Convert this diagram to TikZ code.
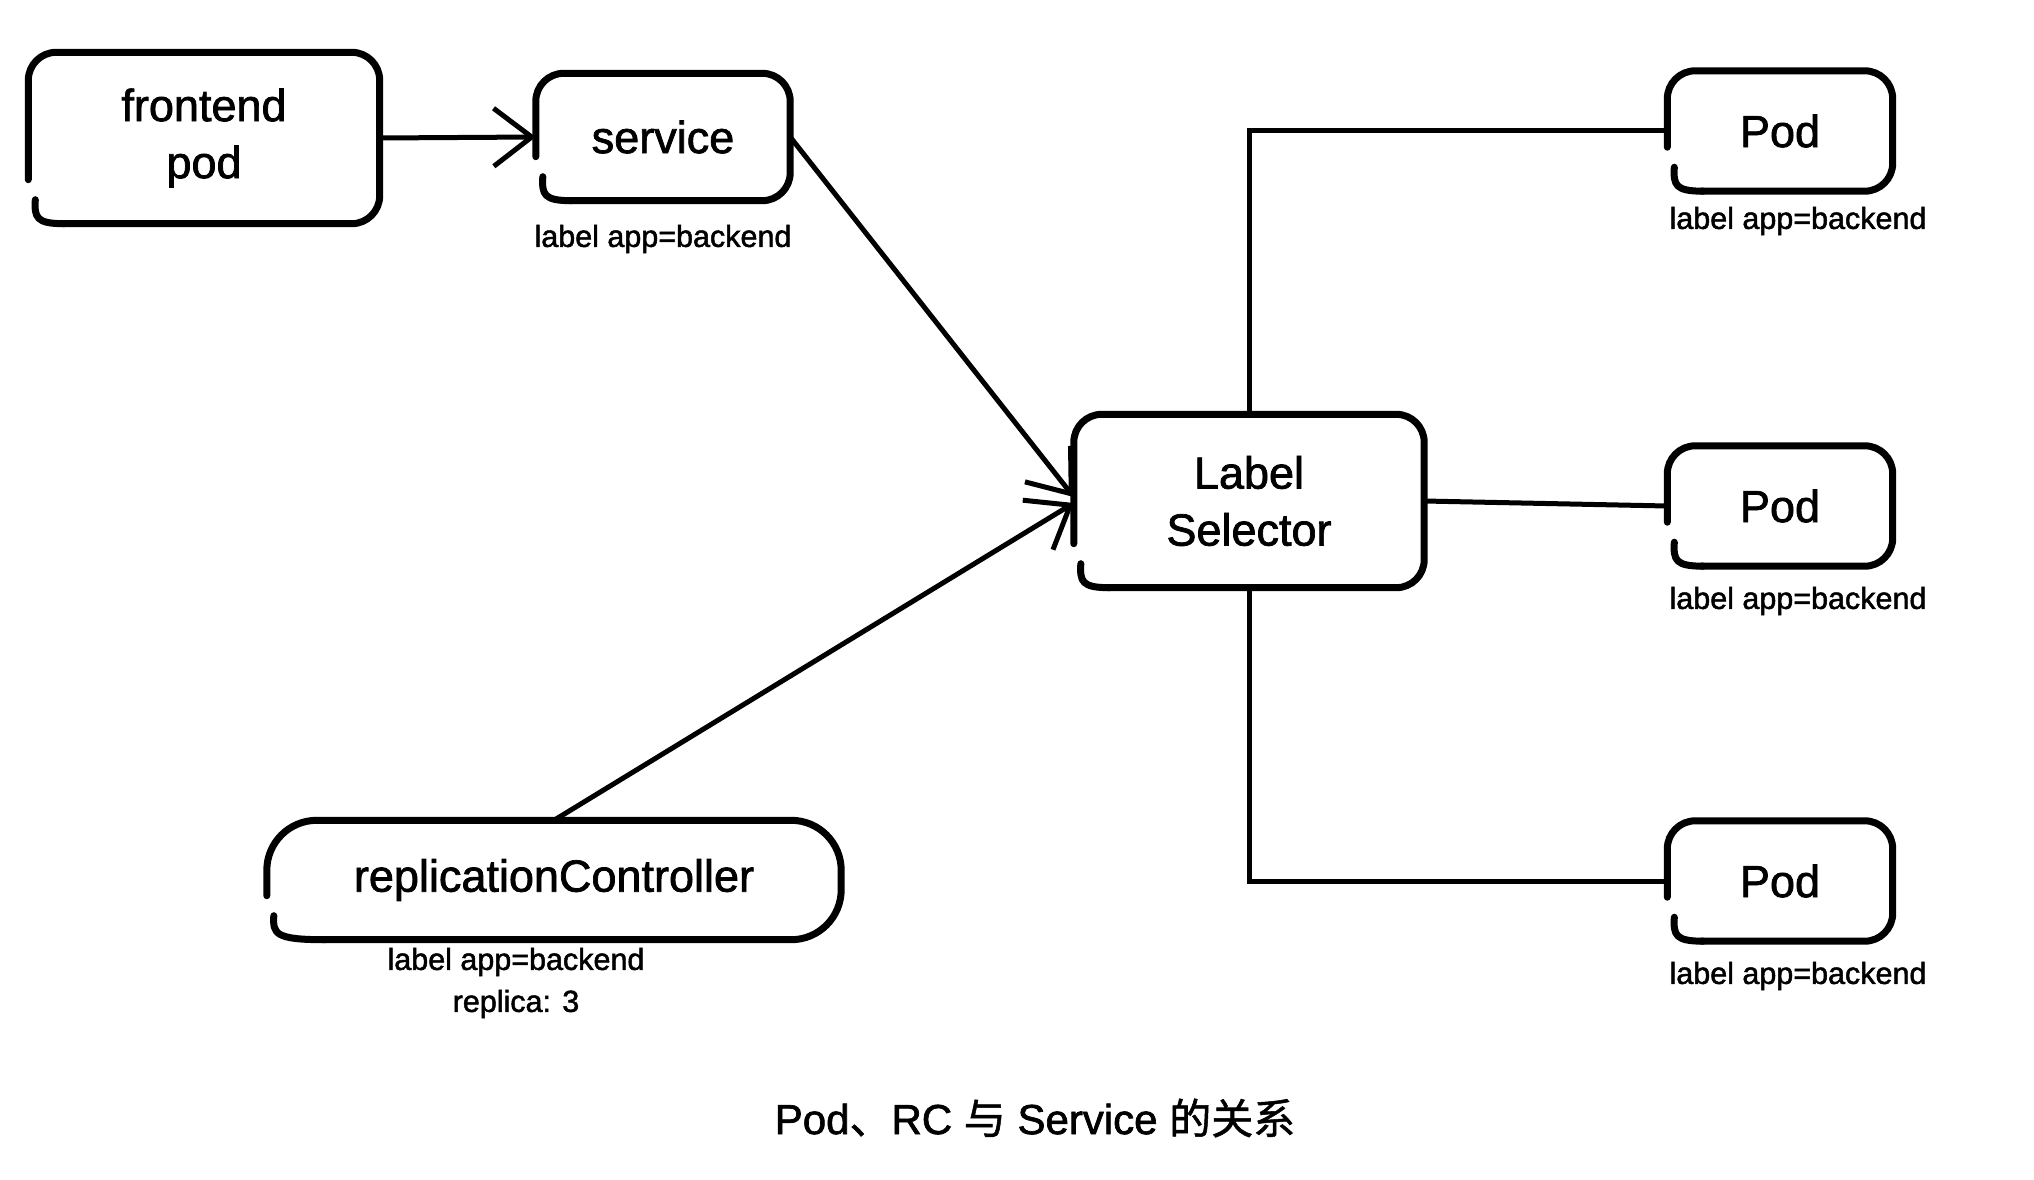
\documentclass[tikz,border=0pt]{standalone}
\usepackage{fontspec}
\setmainfont{Liberation Sans}[BoldFont=Liberation Sans, BoldFeatures={FakeBold=1.6}]
\newfontfamily\cjk{Noto Sans CJK SC}[BoldFont=Noto Sans CJK SC, BoldFeatures={FakeBold=1.2}]
\usetikzlibrary{arrows.meta,calc}
\newcommand\sketchbox[2][28]{%
  \draw[outline, rounded corners=#1pt]
    ($(#2.south west)+(0,-44)$) -- (#2.north west) -- (#2.north east)
    -- (#2.south east) -- ($(#2.south west)+(#1+6,0)$);
  \draw[outline]
    ($(#2.south west)+(#1+8,0)$) .. controls ($(#2.south west)+(8,0)$) and ($(#2.south west)+(6,-6)$) .. ($(#2.south west)+(7,-24)$);}
\begin{document}
\begin{tikzpicture}[x=1pt,y=-1pt,
  box/.style={inner sep=0pt, align=center, font=\fontsize{45}{57}\selectfont\bfseries},
  outline/.style={draw=black, line width=7pt, line cap=round, line join=round},
  lbl/.style={inner sep=0pt, align=center, font=\fontsize{30.5}{42}\selectfont\bfseries},
  conn/.style={draw=black, line width=5pt},
  arr/.style={conn, -{Straight Barb[length=38pt, width=58pt, line width=5pt]}}
]
\useasboundingbox (0,0) rectangle (2034,1180);
\fill[white] (0,0) rectangle (2034,1180);

\node[box, minimum width=351pt, minimum height=171pt] (fp) at (204,138) {frontend\\pod};
\node[box, minimum width=254pt, minimum height=127pt] (svc) at (663,137) {service};
\node[lbl] (svcl) at (663,239) {label app=backend};
\node[box, minimum width=350pt, minimum height=173pt] (ls) at (1249,501) {Label\\Selector};
\node[box, minimum width=574pt, minimum height=119pt] (rc) at (554,880) {replicationController};
\node[lbl] (rcl) at (516,983) {label app=backend\\replica: 3};

\node[box, minimum width=225pt, minimum height=120pt] (p1) at (1780,131) {Pod};
\node[lbl] (p1l) at (1798,221) {label app=backend};
\node[box, minimum width=225pt, minimum height=120pt] (p2) at (1780,506) {Pod};
\node[lbl] (p2l) at (1798,601) {label app=backend};
\node[box, minimum width=225pt, minimum height=120pt] (p3) at (1780,881) {Pod};
\node[lbl] (p3l) at (1798,976) {label app=backend};

\sketchbox{fp}
\sketchbox{svc}
\sketchbox{ls}
\sketchbox[50]{rc}
\sketchbox{p1}
\sketchbox{p2}
\sketchbox{p3}

\node[inner sep=0pt, font=\fontsize{42}{48}\selectfont\bfseries] (cap) at (1035,1118)
  {Pod{\cjk 、}RC {\cjk 与} Service {\cjk 的关系}};

\draw[arr] (fp.east) -- (svc.west);
\draw[arr] (svc.east) -- ([yshift=4pt]ls.west);
\draw[arr] (rc.north) -- ([yshift=-2pt]ls.west);
\draw[conn] (ls.north) |- (p1.west);
\draw[conn] (ls.east) -- (p2.west);
\draw[conn] (ls.south) |- (p3.west);
\end{tikzpicture}
\end{document}
